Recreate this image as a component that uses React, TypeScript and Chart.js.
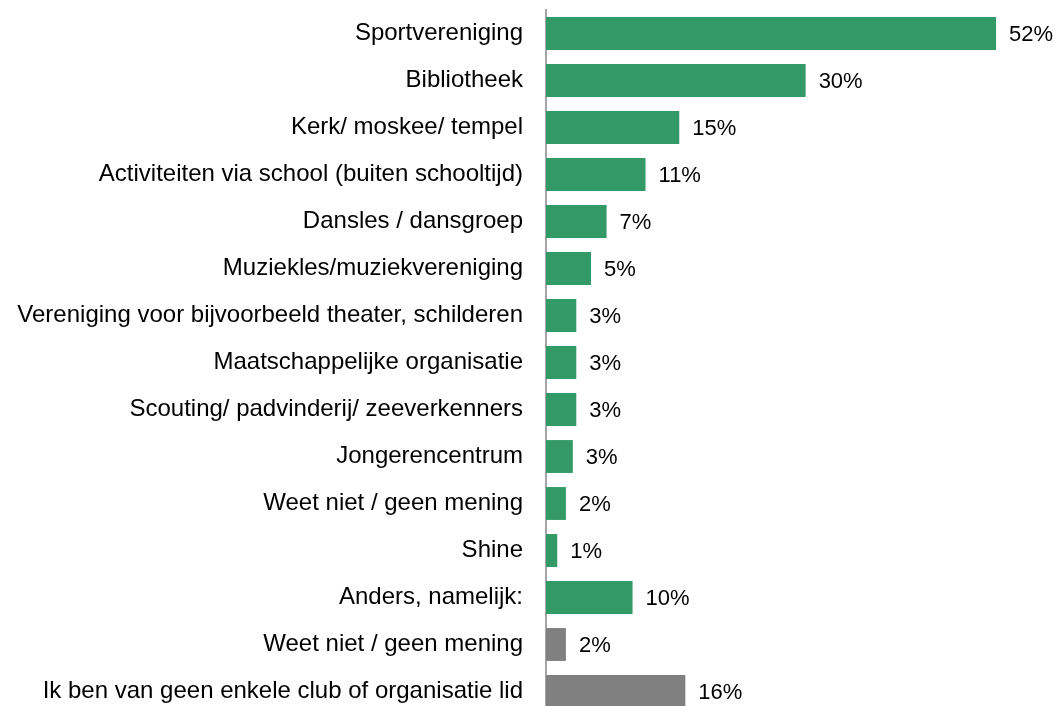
import React, { useEffect, useRef } from "react";
import { Chart, registerables } from "chart.js";

Chart.register(...registerables);

const categories = [
  "Sportvereniging",
  "Bibliotheek",
  "Kerk/ moskee/ tempel",
  "Activiteiten via school (buiten schooltijd)",
  "Dansles / dansgroep",
  "Muziekles/muziekvereniging",
  "Vereniging voor bijvoorbeeld theater, schilderen",
  "Maatschappelijke organisatie",
  "Scouting/ padvinderij/ zeeverkenners",
  "Jongerencentrum",
  "Weet niet / geen mening",
  "Shine",
  "Anders, namelijk:",
  "Weet niet / geen mening",
  "Ik ben van geen enkele club of organisatie lid",
];

const values = [52, 30, 15.4, 11.5, 7, 5.2, 3.5, 3.5, 3.5, 3.1, 2.3, 1.3, 10, 2.3, 16.1];
const valueLabels = ["52%", "30%", "15%", "11%", "7%", "5%", "3%", "3%", "3%", "3%", "2%", "1%", "10%", "2%", "16%"];
const groups = ["g", "g", "g", "g", "g", "g", "g", "g", "g", "g", "g", "g", "g", "x", "x"];

const GREEN = "#339966";
const GRAY = "#808080";
const FONT = "'Liberation Sans', Arial, sans-serif";

const dataLabelPlugin = {
  id: "dataLabels",
  afterDatasetsDraw(chart: any) {
    const ctx = chart.ctx;
    const meta = chart.getDatasetMeta(0);
    ctx.save();
    ctx.font = `22px ${FONT}`;
    ctx.fillStyle = "#000000";
    ctx.textAlign = "left";
    ctx.textBaseline = "middle";
    meta.data.forEach((bar: any, i: number) => {
      ctx.fillText(valueLabels[i], bar.x + 13, bar.y + 1);
    });
    ctx.restore();
  },
};

export default function App() {
  const ref = useRef<HTMLCanvasElement | null>(null);
  useEffect(() => {
    if (!ref.current) return;
    const chart = new Chart(ref.current, {
      type: "bar",
      data: {
        labels: categories,
        datasets: [
          {
            data: values,
            backgroundColor: groups.map((g) => (g === "g" ? GREEN : GRAY)),
            barPercentage: 0.7,
            categoryPercentage: 1,
          },
        ],
      },
      options: {
        indexAxis: "y",
        animation: false,
        responsive: false,
        maintainAspectRatio: false,
        layout: { padding: { top: 10, right: 34, bottom: 0, left: 0 } },
        plugins: {
          legend: { display: false },
          tooltip: { enabled: false },
        },
        scales: {
          x: {
            min: 0,
            max: 55,
            display: false,
            grid: { display: false },
          },
          y: {
            grid: { display: false, drawTicks: false },
            border: { display: true, color: "#a6a6a6", width: 2 },
            ticks: {
              color: "#000000",
              font: { family: FONT, size: 24 },
              padding: 23,
              autoSkip: false,
            },
            afterFit(scale: any) {
              scale.width = 546;
              scale.paddingTop = 0;
              scale.paddingBottom = 0;
            },
          },
        },
      },
      plugins: [dataLabelPlugin],
    });
    return () => chart.destroy();
  }, []);
  return (
    <div style={{ position: "fixed", left: 0, top: 0, width: 1056, height: 706, overflow: "hidden", background: "#fff" }}>
      <canvas ref={ref} width={1056} height={715} style={{ display: "block" }} />
    </div>
  );
}
